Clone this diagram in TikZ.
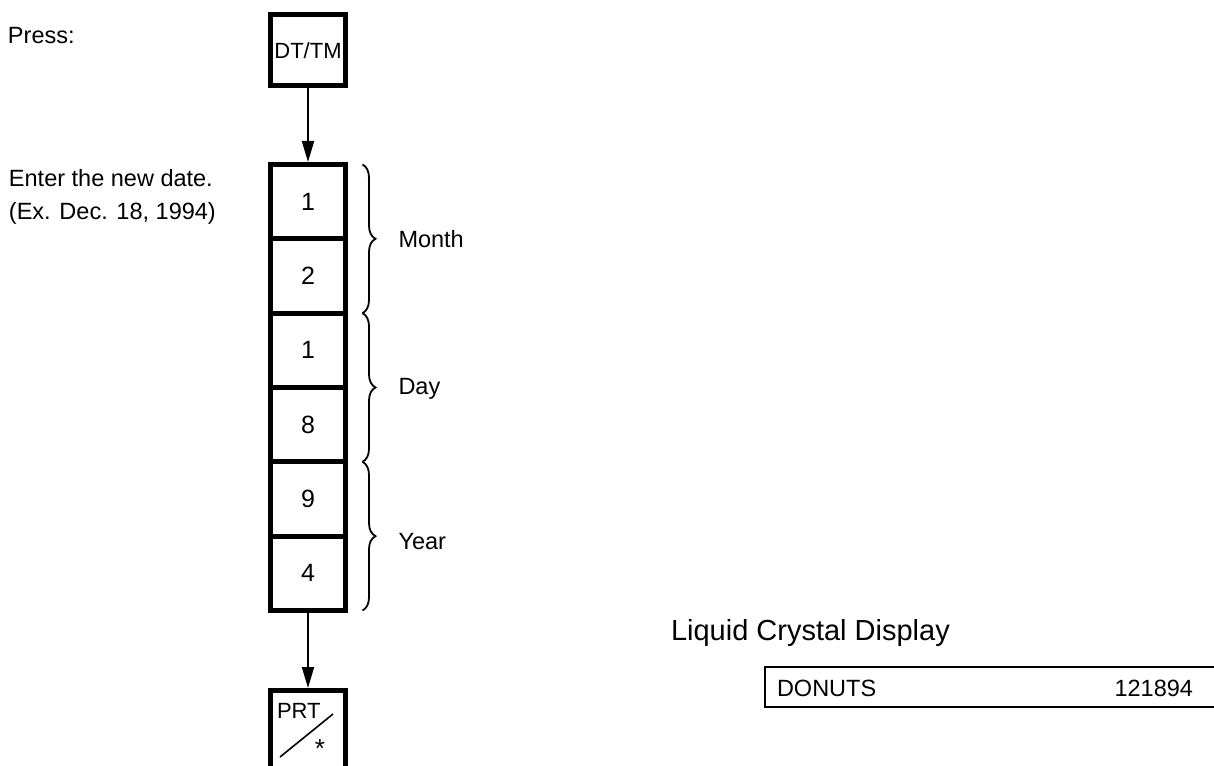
\documentclass[tikz,border=0pt]{standalone}
\usepackage{fontspec}
\setmainfont{Liberation Sans}
\usetikzlibrary{arrows.meta,positioning,decorations.pathreplacing}

\begin{document}
\begin{tikzpicture}[x=1pt,y=-1pt]
    \tikzset{
        keybox/.style={draw, line width=5pt, minimum width=75pt, minimum height=74.33pt, inner sep=0pt, outer sep=0pt, font=\fontsize{25}{28}\selectfont},
        txt/.style={inner sep=0pt, outer sep=0pt, font=\fontsize{23.5}{28.5}\selectfont},
        flow/.style={line width=2pt, -{Triangle[length=21pt,width=12pt]}, shorten >=2.5pt},
        bracestyle/.style={line width=1.8pt, decorate, decoration={brace, amplitude=13pt}}
    }
    \useasboundingbox (0,0) rectangle (1214,765);

    % Textes de gauche
    \node[txt, anchor=west] (press) at (8,36) {Press:};
    \node[txt, anchor=west, align=left] (enter) at (9,197) {Enter the new date.\\[4pt](Ex. Dec. 18, 1994)};

    % Touche DT/TM
    \node[keybox, minimum height=71pt, font=\fontsize{22}{26}\selectfont] (dttm) at (308,50.5) {DT/TM};

    % Touches de la date (12 18 94)
    \foreach \d [count=\i] in {1,2,1,8,9,4} {
        \node[keybox] (k\i) at (308, 164.5+74.33*\i-37.17) {\d};
    }

    % Accolades
    \foreach \a/\b/\l/\s in {1/2/Month/0,3/4/Day/1,5/6/Year/5} {
        \draw[bracestyle] ([xshift=17pt]k\a.north east) -- ([xshift=17pt]k\b.south east)
            node[txt, midway, right=36pt, yshift=-\s pt] (lbl\l) {\l};
    }

    % Touche PRT
    \node[keybox, anchor=north, minimum height=90pt] (prt) at (308,690.5) {};
    \node[txt, font=\fontsize{22}{26}\selectfont, anchor=west] (prtlbl) at (277,711) {PRT};
    \coordinate (sla) at (280,757);
    \coordinate (slb) at (333,714);
    \draw[line width=1.6pt] (sla) -- (slb);
    \node[txt, font=\fontsize{26}{28}\selectfont] (star) at (320,749) {*};

    % Fleches
    \draw[flow] (dttm) -- (k1);
    \draw[flow] (k6) -- (prt);

    % Afficheur
    \node[txt, font=\fontsize{29}{32}\selectfont, anchor=west] (lcdtitle) at (671,633) {Liquid Crystal Display};
    \node[draw, line width=2pt, anchor=north west, minimum width=470pt, minimum height=40pt, inner sep=0pt, outer sep=0pt] (lcd) at (765,667) {};
    \node[txt, anchor=west] (donuts) at (777,688) {DONUTS};
    \node[txt, anchor=east] (datenum) at (1193,688) {121894};

\end{tikzpicture}
\end{document}
